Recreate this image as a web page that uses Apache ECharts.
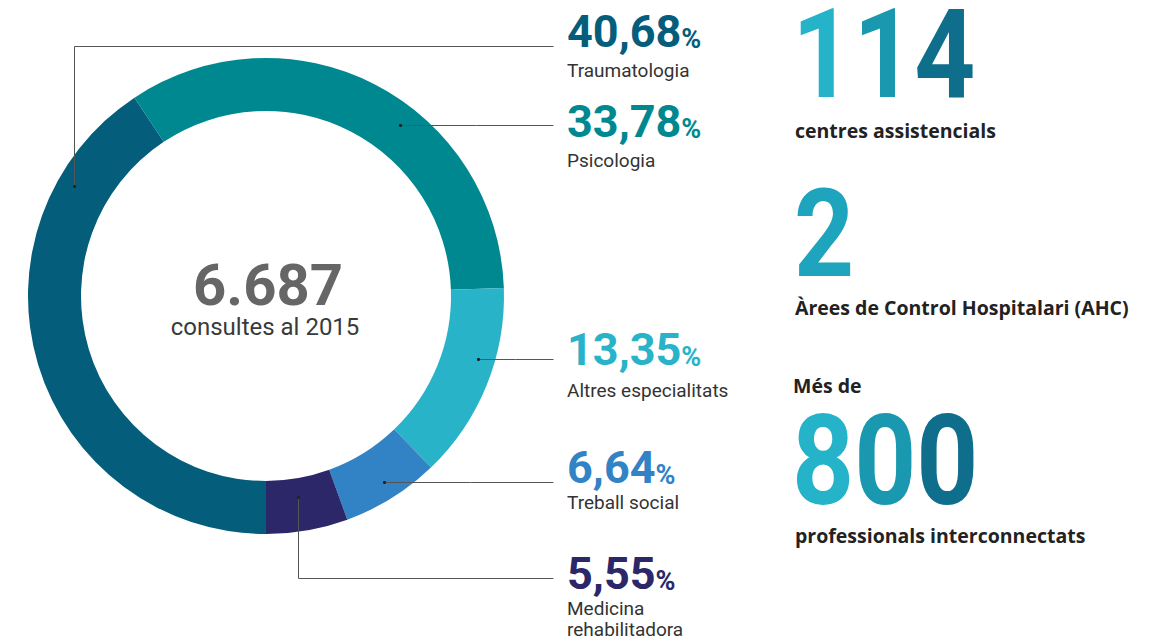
<!DOCTYPE html>
<html>
<head>
<meta charset="utf-8">
<script src="https://cdn.jsdelivr.net/npm/echarts@6/dist/echarts.min.js"></script>
<style>
  html, body { margin: 0; background: #fff; }
  #chart { width: 1156px; height: 640px; }
</style>
</head>
<body>
<div id="chart"></div>
<script>
// dades
const categories = ['Traumatologia', 'Psicologia', 'Altres especialitats', 'Treball social', 'Medicina\nrehabilitadora'];
const shares = [40.68, 33.78, 13.35, 6.64, 5.55];
const totalText = '6.687';
const totalCaption = 'consultes al 2015';
const keyFigures = ['114', '2', '800'];
const keyCaptions = ['centres assistencials', 'Àrees de Control Hospitalari (AHC)', 'professionals interconnectats'];
const keyIntro = 'Més de';

// estil i posicions
const colors = ['#045d7b', '#008891', '#29b3c9', '#3283c5', '#2b2769'];
const digitShades = ['#24b3c9', '#1a98af', '#0f6e8c'];
const labelX = 567;
const labelTop = [6, 96, 324, 442, 548];
const nameLineHeight = [29, 29, 33, 21, 21];
const leaders = [
  [[74, 186], [74, 46], [553, 46]],
  [[400, 125], [476, 125], [553, 125]],
  [[478, 359], [515, 359], [553, 359]],
  [[384, 482], [470, 482], [553, 482]],
  [[298, 497], [298, 578], [553, 578]]
];

const chart = echarts.init(document.getElementById('chart'), null, { renderer: 'svg' });

const fmt = v => v.toFixed(2).replace('.', ',');

// xifra gran amb un to per dígit (degradat de cian a blau fosc)
const bigNumber = (str, x, y, size) => {
  const rich = {};
  const shades = str.length === 1 ? ['#1ea4bc'] : digitShades;
  shades.forEach((c, i) => {
    rich['d' + i] = { fontFamily: 'Roboto', fontWeight: 'bold', fontSize: size, lineHeight: 96, fill: c };
  });
  return {
    type: 'text', x, y, scaleX: 0.86, z: 5,
    style: {
      text: str.split('').map((ch, i) => `{d${i}|${ch}}`).join(''),
      rich,
      font: `bold ${size}px Roboto`,
      verticalAlign: 'middle'
    }
  };
};

const capFont = 'bold 19.5px "Open Sans"';

const graphics = [
  // centre del donut
  { type: 'text', x: 268, y: 285, style: { text: totalText, font: 'bold 58px Roboto', lineHeight: 44, fill: '#666', align: 'center', verticalAlign: 'middle' } },
  { type: 'text', x: 265, y: 327, style: { text: totalCaption, font: '24px Roboto', lineHeight: 24, fill: '#3a3a3a', align: 'center', verticalAlign: 'middle' } },
  // xifres destacades
  bigNumber(keyFigures[0], 792, 55, 124),
  { type: 'text', x: 795, y: 130, style: { text: keyCaptions[0], font: capFont, fill: '#222', verticalAlign: 'middle' } },
  bigNumber(keyFigures[1], 794, 234, 122),
  { type: 'text', x: 795, y: 307, style: { text: keyCaptions[1], font: capFont, fill: '#222', verticalAlign: 'middle' } },
  { type: 'text', x: 793, y: 385, style: { text: keyIntro, font: capFont, fill: '#222', verticalAlign: 'middle' } },
  bigNumber(keyFigures[2], 792, 461, 126),
  { type: 'text', x: 795, y: 535, style: { text: keyCaptions[2], font: capFont, fill: '#222', verticalAlign: 'middle' } }
]
  // línies guia i punts d'ancoratge
  .concat(leaders.map(pts => ({
    type: 'polyline', z: 10,
    shape: { points: pts.map(p => [p[0] + 0.5, p[1] + 0.5]) },
    style: { stroke: '#555', lineWidth: 1, fill: null }
  })))
  .concat(leaders.map(pts => ({
    type: 'circle', z: 11,
    shape: { cx: pts[0][0] + 0.5, cy: pts[0][1] + 0.5, r: 1.6 },
    style: { fill: '#222' }
  })));

const rich = {
  pct: { fontFamily: 'Roboto', fontWeight: 'bold', fontSize: 45, lineHeight: 50 },
  sign: { fontFamily: 'Roboto', fontWeight: 'bold', fontSize: 27, lineHeight: 50, verticalAlign: 'bottom', padding: [0, 0, 4, 0] }
};
nameLineHeight.forEach((lh, i) => {
  rich['name' + i] = { fontFamily: 'Roboto', fontSize: 19, lineHeight: lh, color: '#333' };
});
rich.nameTail = { fontFamily: 'Roboto', fontSize: 19, lineHeight: 21, color: '#333' };

const option = {
  animation: false,
  series: [{
    type: 'pie',
    center: [266, 296],
    radius: [185, 238],
    startAngle: 270,
    clockwise: true,
    avoidLabelOverlap: false,
    silent: true,
    data: categories.map((name, i) => ({
      name,
      value: shares[i],
      itemStyle: { color: colors[i] },
      label: { color: colors[i] }
    })),
    label: {
      show: true,
      position: 'outside',
      formatter: p => {
        const lines = p.name.split('\n');
        const first = `{name${p.dataIndex}|${lines[0]}}`;
        const rest = lines.slice(1).map(l => `\n{nameTail|${l}}`).join('');
        return `{pct|${fmt(p.value)}}{sign|%}\n${first}${rest}`;
      },
      rich
    },
    labelLine: { show: false },
    labelLayout: p => ({
      x: labelX,
      y: labelTop[p.dataIndex],
      align: 'left',
      verticalAlign: 'top'
    })
  }],
  graphic: graphics
};

chart.setOption(option);
</script>
</body>
</html>
